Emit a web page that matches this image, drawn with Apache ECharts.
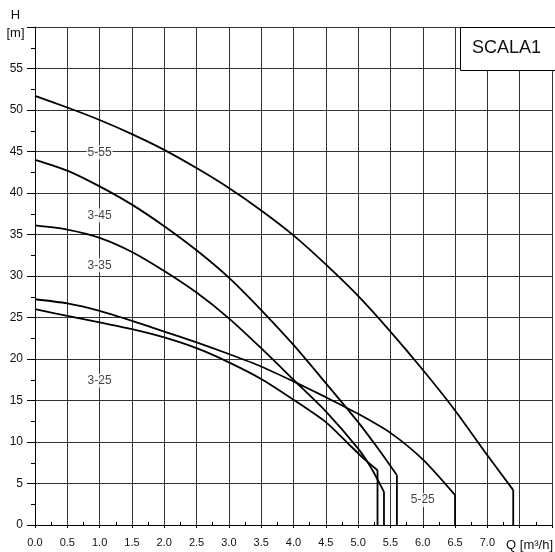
<!DOCTYPE html>
<html><head><meta charset="utf-8">
<script src="https://cdn.jsdelivr.net/npm/echarts/dist/echarts.min.js"></script>
<style>html,body{margin:0;padding:0;background:#fff}#c{width:555px;height:552px}</style>
</head><body><div id="c"></div>
<script>
// ---- data ----
const curve_5_55 = [[0,51.7],[0.5,50.3],[1.0,48.8],[1.5,47.1],[2.0,45.2],[2.5,43.0],[3.0,40.6],[3.5,37.9],[4.0,34.9],[4.5,31.4],[5.0,27.6],[5.5,23.3],[6.0,18.7],[6.5,13.8],[7.0,8.4],[7.4,4.2]];
const curve_3_45 = [[0,44.0],[0.5,42.7],[1.0,40.8],[1.5,38.6],[2.0,36.0],[2.5,33.1],[3.0,29.8],[3.5,25.9],[4.0,21.7],[4.5,17.1],[5.0,12.4],[5.3,9.3],[5.6,6.0]];
const curve_3_35 = [[0,36.1],[0.5,35.6],[1.0,34.6],[1.5,32.9],[2.0,30.6],[2.5,28.0],[3.0,24.9],[3.5,21.3],[4.0,17.5],[4.5,13.7],[5.0,9.2],[5.2,6.9],[5.4,4.0]];
const curve_3_25 = [[0,26.0],[0.5,25.2],[1.0,24.4],[1.5,23.6],[2.0,22.6],[2.5,21.3],[3.0,19.6],[3.5,17.6],[4.0,15.1],[4.5,12.4],[4.9,9.4],[5.1,7.9],[5.3,6.6]];
const curve_5_25 = [[0,27.2],[0.5,26.7],[1.0,25.8],[1.5,24.6],[2.0,23.3],[2.5,22.0],[3.0,20.6],[3.5,19.1],[4.0,17.3],[4.5,15.4],[5.0,13.4],[5.5,11.1],[6.0,7.9],[6.5,3.6]];
const curveNames = ['5-55','3-45','3-35','3-25','5-25'];
const curves = [curve_5_55, curve_3_45, curve_3_35, curve_3_25, curve_5_25];
const labelNames = ['5-55','3-45','3-35','3-25','5-25'];
const labelX = [1.0, 1.0, 1.0, 1.0, 6.0];
const labelY = [44.9, 37.3, 31.3, 17.4, 3.0];
const chartTitle = 'SCALA1';
const yAxisTitle = 'H';
const yAxisUnit = '[m]';
const xAxisTitle = 'Q [m³/h]';
const xMin = 0, xMax = 8, xStep = 0.5, xLabelMax = 7.0;
const yMin = 0, yMax = 60, yStep = 5, yLabelMax = 55;

// ---- chart ----
const chart = echarts.init(document.getElementById('c'), null, {renderer:'canvas'});
const font = 'Liberation Sans, Arial, sans-serif';
const series = [];
curves.forEach((c, i) => {
  series.push({
    type:'line', name: curveNames[i], data: c, smooth: 0.25,
    symbol:'none', lineStyle:{color:'#000', width:1.8}, z:5
  });
  const last = c[c.length-1];
  series.push({
    type:'line', name: curveNames[i] + ' end', data: [last, [last[0], yMin]],
    symbol:'none', lineStyle:{color:'#000', width:1.8}, z:5
  });
});
series.push({
  type:'scatter', symbolSize:1, itemStyle:{color:'rgba(0,0,0,0)'}, z:6,
  data: labelNames.map((n, i) => ({name:n, value:[labelX[i], labelY[i]]})),
  label:{show:true, position:'inside', formatter:'{b}', color:'#111', fontSize:12,
    fontFamily:font, backgroundColor:'#fff', padding:[1,1]}
});

chart.setOption({
  animation:false,
  backgroundColor:'#fff',
  grid:{left:35, right:2, top:27, bottom:27, containLabel:false},
  xAxis:[{
    type:'value', min:xMin, max:xMax, interval:xStep,
    axisLine:{show:true, onZero:false, lineStyle:{color:'#000', width:1}},
    axisTick:{show:true, length:3, lineStyle:{color:'#000'}},
    splitLine:{show:true, lineStyle:{color:'#333', width:1}},
    axisLabel:{margin:12, fontSize:11, fontFamily:font, color:'#111',
      formatter: v => v > xLabelMax + 1e-6 ? '' : v.toFixed(1)}
  },{
    type:'value', min:xMin, max:xMax, interval:xStep, position:'bottom', gridIndex:0,
    axisLine:{show:false}, axisLabel:{show:false}, splitLine:{show:false},
    axisTick:{show:false, inside:true},
    minorTick:{show:true, splitNumber:2, length:3, lineStyle:{color:'#000'}}
  }],
  yAxis:{
    type:'value', min:yMin, max:yMax, interval:yStep,
    axisLine:{show:true, onZero:false, lineStyle:{color:'#000', width:1}},
    axisTick:{show:true, length:8, lineStyle:{color:'#000'}},
    minorTick:{show:true, splitNumber:2, length:4, lineStyle:{color:'#000'}},
    splitLine:{show:true, lineStyle:{color:'#333', width:1}},
    axisLabel:{margin:12, fontSize:12, fontFamily:font, color:'#111',
      formatter: v => v > yLabelMax ? '' : String(v)}
  },
  series: series,
  graphic:[
    {type:'rect', shape:{x:460.5, y:27.5, width:100, height:43}, z:100,
      style:{fill:'#fff', stroke:'#000', lineWidth:1}},
    {type:'text', x:506.5, y:48.5, z:101,
      style:{text:chartTitle, font:'18px ' + font, fill:'#111', textAlign:'center', textVerticalAlign:'middle'}},
    {type:'text', x:15.5, y:15.5, z:101,
      style:{text:yAxisTitle, font:'13px ' + font, fill:'#111', textAlign:'center', textVerticalAlign:'middle'}},
    {type:'text', x:15.5, y:33.5, z:101,
      style:{text:yAxisUnit, font:'13px ' + font, fill:'#111', textAlign:'center', textVerticalAlign:'middle'}},
    {type:'text', x:553, y:545, z:101,
      style:{text:xAxisTitle, font:'13px ' + font, fill:'#111', textAlign:'right', textVerticalAlign:'middle'}}
  ]
});
</script></body></html>
